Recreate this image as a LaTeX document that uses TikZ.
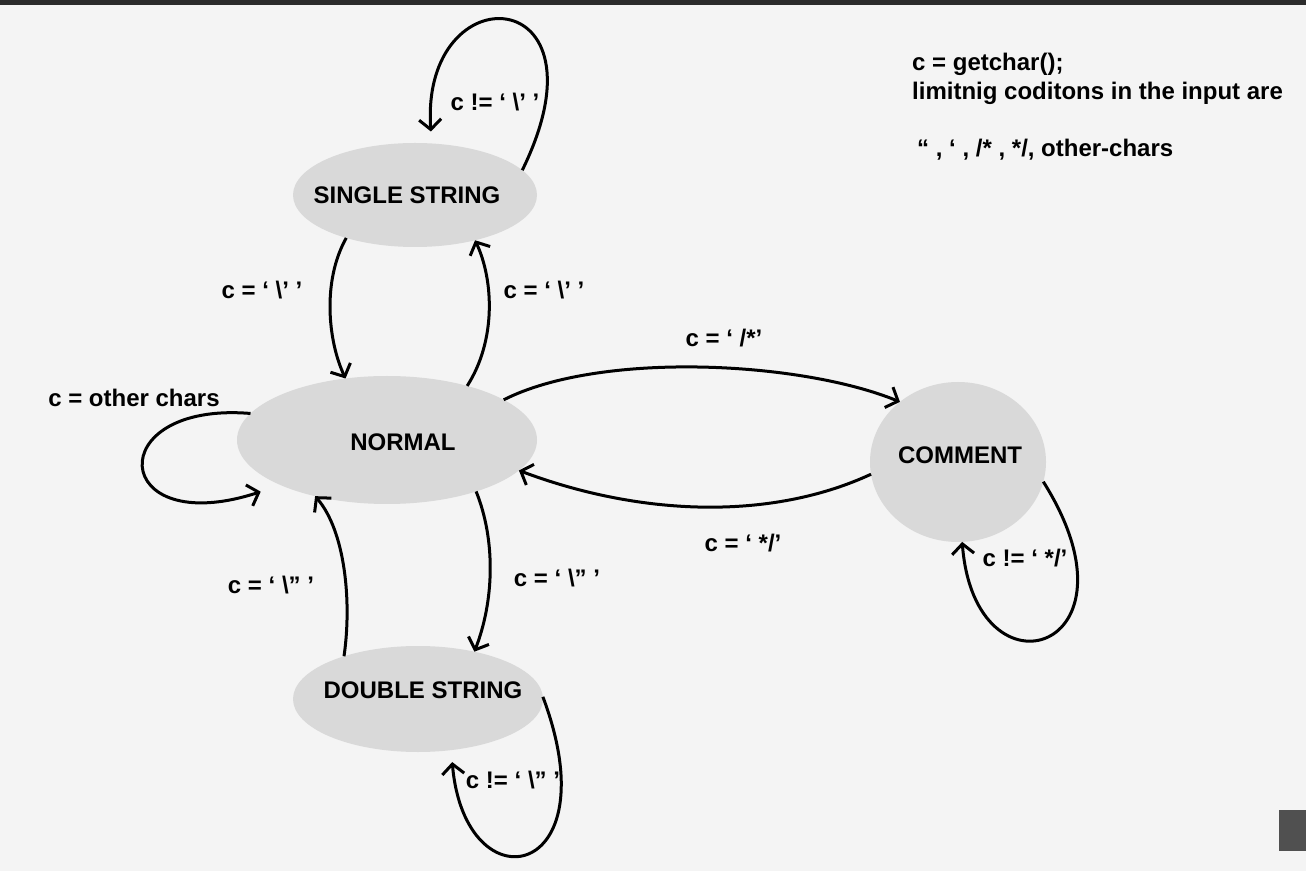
\documentclass[tikz,border=0pt]{standalone}
\usepackage{fontspec}
\setmainfont{Liberation Sans}
\usepackage{xcolor}
\usepackage{tikz}
\usetikzlibrary{shapes.geometric,arrows.meta}
\definecolor{bgcol}{HTML}{F4F4F4}
\definecolor{statecol}{HTML}{D9D9D9}
\definecolor{barcol}{HTML}{2B2B2B}
\definecolor{tabcol}{HTML}{505050}

\begin{document}
\begin{tikzpicture}[x=1pt,y=1pt,
  state/.style={ellipse,fill=statecol,inner sep=0pt,outer sep=0pt},
  trans/.style={-{Straight Barb[length=10pt,width=22pt]},line width=3pt},
  lbl/.style={inner sep=0pt},
  font=\fontsize{24}{29}\selectfont\bfseries]
\fill[bgcol] (0,0) rectangle (1306,871);
\fill[barcol] (0,866) rectangle (1306,871);
\fill[tabcol] (1279,20) rectangle (1306,61);
\useasboundingbox (0,0) rectangle (1306,871);

% states
\node[state,minimum width=244pt,minimum height=104pt,
  label={[xshift=-8pt]center:SINGLE STRING}] (single) at (415,676) {};
\node[state,minimum width=300pt,minimum height=128pt,
  label={[xshift=16pt,yshift=-2pt]center:NORMAL}] (normal) at (387,431) {};
\node[state,minimum width=250pt,minimum height=106pt,
  label={[xshift=5pt,yshift=9pt]center:DOUBLE STRING}] (double) at (418,172) {};
\node[state,minimum width=176pt,minimum height=160pt,
  label={[xshift=2pt,yshift=7pt]center:COMMENT}] (comment) at (958,409) {};

% transitions
\draw[trans,shorten >=12pt] (single.13) .. controls (615,890) and (420,900) .. (single.72);
\draw[trans] (single.212) .. controls (322,590) and (328,530) .. (normal.124);
\draw[trans] (normal.34) .. controls (496,530) and (494,590) .. (single.-37);
\draw[trans] (normal.19) .. controls (600,520) and (800,510) .. (comment.134);
\draw[trans] (comment.188) .. controls (770,350) and (640,355) .. (normal.-13);
\draw[trans] (comment.-13) .. controls (1150,220) and (975,165) .. (comment.-87);
\draw[trans,shorten >=21pt] (normal.169) .. controls (100,470) and (110,330) .. (normal.203);
\draw[trans] (normal.-30) .. controls (496,330) and (494,270) .. (double.40);
\draw[trans] (double.150) .. controls (352,270) and (345,340) .. (normal.218);
\draw[trans,shorten >=12pt] (double.1) .. controls (612,-10) and (465,-38) .. (double.-57);

% labels
\node[lbl] (l-ss-self) at (495,769) {c != ‘ \textbackslash{}’ ’};
\node[lbl] (l-ss-in) at (262,581) {c = ‘ \textbackslash{}’ ’};
\node[lbl] (l-ss-out) at (544,581) {c = ‘ \textbackslash{}’ ’};
\node[lbl] (l-cm-in) at (724,533) {c = ‘ /*’};
\node[lbl] (l-cm-out) at (743,328) {c = ‘ */’};
\node[lbl] (l-cm-self) at (1025,313) {c != ‘ */’};
\node[lbl] (l-nm-self) at (134,473) {c = other chars};
\node[lbl] (l-ds-out) at (271,286) {c = ‘ \textbackslash{}” ’};
\node[lbl] (l-ds-in) at (557,293) {c = ‘ \textbackslash{}” ’};
\node[lbl] (l-ds-self) at (513,91) {c != ‘ \textbackslash{}” ’};

% note
\node[lbl,anchor=north west,align=left] (note) at (912,818)
  {c = getchar();\\limitnig coditons in the input are\\[28pt]\hspace*{5pt}“ , ‘ , /* , */, other-chars};
\end{tikzpicture}
\end{document}
